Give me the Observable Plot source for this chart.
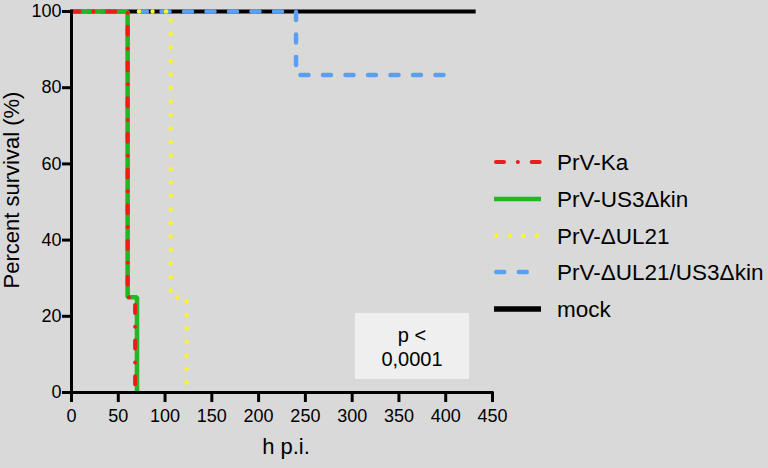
<!DOCTYPE html>
<html><head><meta charset="utf-8">
<script src="https://cdn.jsdelivr.net/npm/d3@7"></script>
<script src="https://cdn.jsdelivr.net/npm/@observablehq/plot@0.6"></script>
<style>
html,body{margin:0;padding:0;background:#d9d9d9;}
#chart{position:relative;width:768px;height:468px;overflow:hidden;}
#chart svg{position:absolute;left:0;top:0;}
</style>
</head><body><div id="chart"></div>
<script>
// ---- data ----
const seriesNames = ["PrV-Ka", "PrV-US3Δkin", "PrV-ΔUL21", "PrV-ΔUL21/US3Δkin", "mock"];
const seriesColors = ["#ec1c1c", "#22b822", "#f8f530", "#5a9ff0", "#000000"];
const kaTimes = [0, 60, 68];
const kaSurvival = [100, 25, 0];
const us3Times = [0, 60, 70];
const us3Survival = [100, 25, 0];
const ul21Times = [0, 106, 123];
const ul21Survival = [100, 25, 0];
const ul21us3Times = [0, 240, 405];
const ul21us3Survival = [100, 83.33, 83.33];
const mockTimes = [0, 432];
const mockSurvival = [100, 100];
const xTicks = [0, 50, 100, 150, 200, 250, 300, 350, 400, 450];
const yTicks = [0, 20, 40, 60, 80, 100];
const xLabel = "h p.i.";
const yLabel = "Percent survival (%)";
const pText = ["p <", "0,0001"];

// ---- styles per series ----
const styles = [
  {w: 4, dash: "8,13.8,0.1,13.8"},
  {w: 4.6, dash: null},
  {w: 4.4, dash: "0.1,13.4"},
  {w: 4.5, dash: "8,14.5"},
  {w: 4, dash: null}
];
const timesList = [kaTimes, us3Times, ul21Times, ul21us3Times, mockTimes];
const survList = [kaSurvival, us3Survival, ul21Survival, ul21us3Survival, mockSurvival];
const rowsFor = i => timesList[i].map((t, k) => ({t, s: survList[i][k], name: seriesNames[i]}));

const drawOrder = [4, 3, 2, 1, 0];
const lineMarks = drawOrder.map(i => Plot.line(rowsFor(i), {
  x: "t", y: "s", curve: "step-after",
  stroke: seriesColors[i], strokeWidth: styles[i].w,
  strokeDasharray: styles[i].dash || undefined,
  strokeLinecap: styles[i].dash ? "round" : "butt",
  strokeLinejoin: "miter"
}));

const font = "'Liberation Sans', Arial, sans-serif";
const plot = Plot.plot({
  width: 768, height: 468,
  marginLeft: 71, marginRight: 276, marginTop: 11, marginBottom: 76,
  style: {background: "#d9d9d9", fontFamily: font, fontSize: "18px", color: "#000"},
  x: {domain: [0, 450]},
  y: {domain: [0, 100]},
  marks: [
    ...lineMarks,
    Plot.ruleY([0], {stroke: "#000", strokeWidth: 3, strokeLinecap: "square"}),
    Plot.ruleX([0], {stroke: "#000", strokeWidth: 3, strokeLinecap: "square"}),
    Plot.axisX({ticks: xTicks, tickSize: 10, tickPadding: 7, strokeWidth: 3, label: null, fontSize: 18, tickFormat: d => String(d)}),
    Plot.axisY({ticks: yTicks, tickSize: 9, tickPadding: 1, strokeWidth: 3, label: null, fontSize: 18, tickFormat: d => String(d)}),
    Plot.text([yLabel], {text: d => d, frameAnchor: "left", textAnchor: "middle", rotate: -90, dx: -60, dy: -12, fontSize: 22, lineAnchor: "middle", fill: "#000"}),
    Plot.text([xLabel], {text: d => d, frameAnchor: "bottom", textAnchor: "middle", dx: 4, dy: 54, fontSize: 22, lineAnchor: "middle", fill: "#000"})
  ]
});
document.getElementById("chart").appendChild(plot);

// ---- overlay: p-value box & legend ----
const svg = d3.select("#chart").append("svg").attr("width", 768).attr("height", 468)
  .style("font-family", font);
svg.append("rect").attr("x", 355).attr("y", 313).attr("width", 114).attr("height", 66).attr("fill", "#efefef");
svg.selectAll("text.p").data(pText).join("text").attr("class", "p")
  .attr("x", 412).attr("y", (d, i) => 335 + i * 24).attr("dy", "0.35em")
  .attr("text-anchor", "middle").attr("font-size", 20).attr("fill", "#000").text(d => d);

const legendY = [162, 199, 236, 272, 309];
const lg = svg.append("g");
seriesNames.forEach((name, i) => {
  const st = styles[i];
  lg.append("line").attr("x1", st.dash ? 494 + st.w / 2 : 494).attr("x2", 541)
    .attr("y1", legendY[i]).attr("y2", legendY[i])
    .attr("stroke", seriesColors[i]).attr("stroke-width", i === 4 ? 5.5 : st.w)
    .attr("stroke-dasharray", st.dash)
    .attr("stroke-linecap", st.dash ? "round" : "butt");
  lg.append("text").attr("x", 557).attr("y", legendY[i]).attr("dy", "0.35em")
    .attr("font-size", 22.5).attr("fill", "#000").text(name);
});
</script>
</body></html>
